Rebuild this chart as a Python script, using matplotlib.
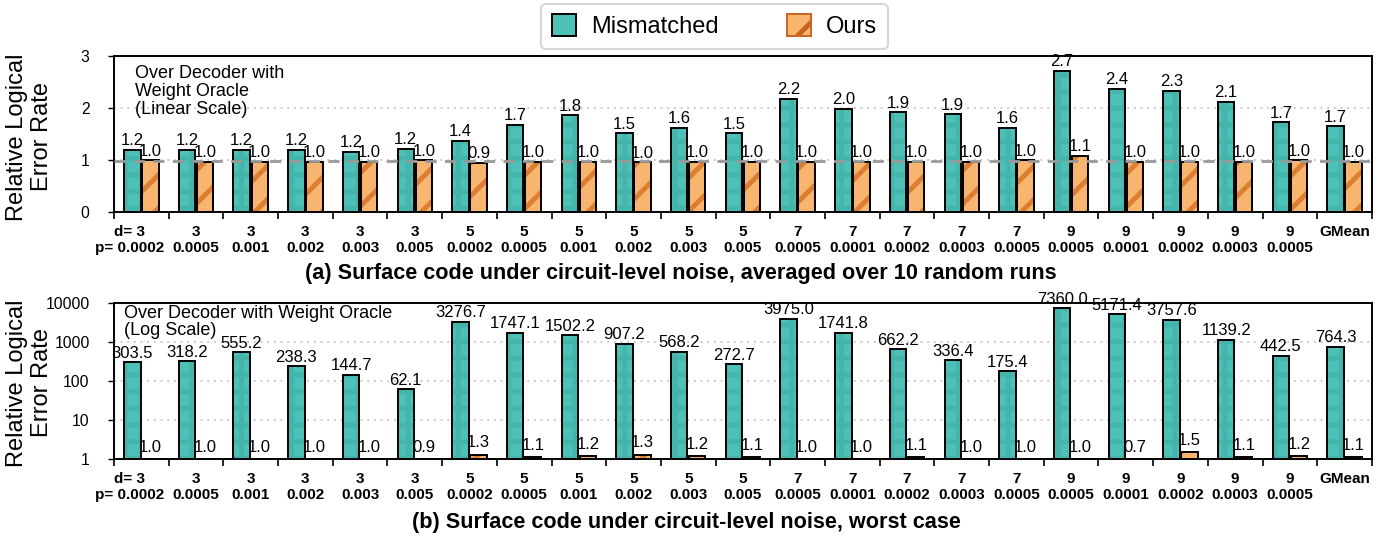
import matplotlib
matplotlib.use("Agg")
import matplotlib.pyplot as plt
import numpy as np
from matplotlib.patches import Patch

plt.rcParams['font.family'] = ['Liberation Sans', 'DejaVu Sans']
plt.rcParams['hatch.linewidth'] = 3.5

d_labels = ["3", "3", "3", "3", "3", "3", "5", "5", "5", "5", "5", "5",
            "7", "7", "7", "7", "7", "9", "9", "9", "9", "9", "GMean"]
p_labels = ["0.0002", "0.0005", "0.001", "0.002", "0.003", "0.005",
            "0.0002", "0.0005", "0.001", "0.002", "0.003", "0.005",
            "0.0005", "0.0001", "0.0002", "0.0003", "0.0005",
            "0.0005", "0.0001", "0.0002", "0.0003", "0.0005", ""]

# (a) averaged over 10 random runs (linear)
avg_mismatched = [1.20, 1.20, 1.20, 1.20, 1.16, 1.22, 1.37, 1.68, 1.86, 1.52, 1.62, 1.52,
                  2.18, 1.99, 1.92, 1.88, 1.62, 2.72, 2.37, 2.33, 2.12, 1.73, 1.65]
avg_ours = [1.00, 0.97, 0.97, 0.97, 0.97, 1.00, 0.95, 0.97, 0.97, 0.96, 0.97, 0.97,
            0.97, 0.97, 0.97, 0.97, 1.00, 1.08, 0.97, 0.97, 0.97, 1.00, 0.97]
avg_mismatched_lbl = ["1.2", "1.2", "1.2", "1.2", "1.2", "1.2", "1.4", "1.7", "1.8", "1.5", "1.6", "1.5",
                      "2.2", "2.0", "1.9", "1.9", "1.6", "2.7", "2.4", "2.3", "2.1", "1.7", "1.7"]
avg_ours_lbl = ["1.0", "1.0", "1.0", "1.0", "1.0", "1.0", "0.9", "1.0", "1.0", "1.0", "1.0", "1.0",
                "1.0", "1.0", "1.0", "1.0", "1.0", "1.1", "1.0", "1.0", "1.0", "1.0", "1.0"]

# (b) worst case (log)
worst_mismatched = [303.5, 318.2, 555.2, 238.3, 144.7, 62.1, 3276.7, 1747.1, 1502.2, 907.2, 568.2, 272.7,
                    3975.0, 1741.8, 662.2, 336.4, 175.4, 7360.0, 5171.4, 3757.6, 1139.2, 442.5, 764.3]
worst_ours = [1.0, 1.0, 1.0, 1.0, 1.0, 0.9, 1.3, 1.1, 1.2, 1.3, 1.2, 1.1,
              1.0, 1.0, 1.1, 1.0, 1.0, 1.0, 0.7, 1.5, 1.1, 1.2, 1.1]

TEAL = '#4DC1B7'
TEAL_H = '#45B5AB'
ORANGE = '#F7B56F'
ORANGE_H = '#DC7E30'

fig = plt.figure(figsize=(13.9, 5.37), dpi=100)
ax1 = fig.add_axes([0.082, 0.6052, 0.905, 0.2905])
ax2 = fig.add_axes([0.082, 0.1453, 0.905, 0.2905])

x = np.arange(len(d_labels))
w = 0.30
off = 0.165
TICK_FS = 11
TICK_PAD = 9.5
TICK_LS = 1.15


def draw_bars(ax, vals, xs, face, hcol, hatch, bottom=0.0):
    h = [v - bottom for v in vals]
    ax.bar(xs, h, w, bottom=bottom, color=face, edgecolor=hcol, linewidth=0,
           hatch=hatch, zorder=3)
    ax.bar(xs, h, w, bottom=bottom, fill=False, edgecolor='black', linewidth=1.4, zorder=4)


for ax, m, o, bottom in [(ax1, avg_mismatched, avg_ours, 0.0),
                         (ax2, worst_mismatched, worst_ours, 1.0)]:
    draw_bars(ax, m, x - off, TEAL, TEAL_H, '+', bottom)
    draw_bars(ax, o, x + off, ORANGE, ORANGE_H, '/', bottom)
    ax.set_xlim(-0.5, len(x) - 0.5)
    ax.set_xticks(x)
    labels = [f"{d}\n{p}" if p else d for d, p in zip(d_labels, p_labels)]
    labels[0] = ""
    ax.set_xticklabels(labels, fontweight='bold', fontsize=TICK_FS, linespacing=TICK_LS, va='top')
    ax.tick_params(axis='x', which='major', length=0, pad=TICK_PAD)
    ax.set_xticks(np.arange(-0.5, len(x)), minor=True)
    ax.tick_params(axis='x', which='minor', length=5, width=1.2, direction='out')
    ax.tick_params(axis='y', which='both', length=4, width=1.0, pad=13.5, labelsize=11.3)
    for s in ax.spines.values():
        s.set_linewidth(1.4)
    ax.annotate(f"d= {d_labels[0]}\np= {p_labels[0]}", xy=(-0.21, 0),
                xycoords=('data', 'axes fraction'), xytext=(0, -TICK_PAD),
                textcoords='offset points', ha='center', va='top', fontweight='bold',
                fontsize=TICK_FS, linespacing=TICK_LS, annotation_clip=False)

# top panel
ax1.set_ylim(0, 3)
ax1.set_yticks([0, 1, 2, 3])
for g in [1, 2]:
    ax1.axhline(g, color='#bbbbbb', linestyle=(0, (1, 3)), linewidth=1.2, zorder=1)
ax1.axhline(0.975, color='#999999', linestyle=(0, (4, 3)), linewidth=2.0, zorder=5)
for xi, v, lbl in zip(x - off, avg_mismatched, avg_mismatched_lbl):
    ax1.annotate(lbl, (xi, v), xytext=(0, 1), textcoords='offset points',
                 ha='center', va='bottom', fontsize=12, zorder=6)
for xi, v, lbl in zip(x + off, avg_ours, avg_ours_lbl):
    ax1.annotate(lbl, (xi, v), xytext=(0, 1), textcoords='offset points',
                 ha='center', va='bottom', fontsize=12, zorder=6)
ax1.text(0.017, 0.94, "Over Decoder with\nWeight Oracle\n(Linear Scale)",
         transform=ax1.transAxes, ha='left', va='top', fontsize=13, linespacing=1.08, zorder=7)

# bottom panel
ax2.set_yscale('log')
ax2.set_ylim(1, 10000)
ax2.set_yticks([1, 10, 100, 1000, 10000])
ax2.set_yticklabels(["1", "10", "100", "1000", "10000"])
ax2.yaxis.set_minor_locator(matplotlib.ticker.NullLocator())
for g in [10, 100, 1000]:
    ax2.axhline(g, color='#bbbbbb', linestyle=(0, (1, 3)), linewidth=1.2, zorder=1)
for xi, v in zip(x - off, worst_mismatched):
    ax2.annotate(f"{v:.1f}", (xi, v), xytext=(0, 1), textcoords='offset points',
                 ha='center', va='bottom', fontsize=12, zorder=6)
for xi, v in zip(x + off, worst_ours):
    ax2.annotate(f"{v:.1f}", (xi, max(v, 1.0)), xytext=(0, 3), textcoords='offset points',
                 ha='center', va='bottom', fontsize=12, zorder=6)
ax2.text(0.008, 0.99, "Over Decoder with Weight Oracle",
         transform=ax2.transAxes, ha='left', va='top', fontsize=13, zorder=7)
ax2.text(0.008, 0.875, "(Log Scale)",
         transform=ax2.transAxes, ha='left', va='top', fontsize=13, zorder=7)

# y labels (two lines each)
for yc in [0.745, 0.287]:
    fig.text(0.0125, yc, "Relative Logical", rotation=90, ha='center', va='center', fontsize=17)
    fig.text(0.0303, yc, "Error Rate", rotation=90, ha='center', va='center', fontsize=17)

fig.text(0.49, 0.49, "(a) Surface code under circuit-level noise, averaged over 10 random runs",
         ha='center', va='center', fontsize=15.6, fontweight='bold')
fig.text(0.494, 0.027, "(b) Surface code under circuit-level noise, worst case",
         ha='center', va='center', fontsize=15.6, fontweight='bold')

# legend
h1 = Patch(facecolor=TEAL, edgecolor='black', linewidth=1.4)
h2 = Patch(facecolor=ORANGE, edgecolor='#C8641E', linewidth=1.4, hatch='/')
leg = fig.legend([h1, h2], ["Mismatched", "Ours"], loc='center', bbox_to_anchor=(0.514, 0.951),
                 ncol=2, fontsize=17, handlelength=1.0, handleheight=1.0, handletextpad=0.65,
                 columnspacing=2.9, frameon=True, fancybox=True, borderpad=0.45,
                 borderaxespad=0, edgecolor='#cccccc')
leg.get_frame().set_linewidth(1.5)

fig.savefig("out.png", dpi=100)
